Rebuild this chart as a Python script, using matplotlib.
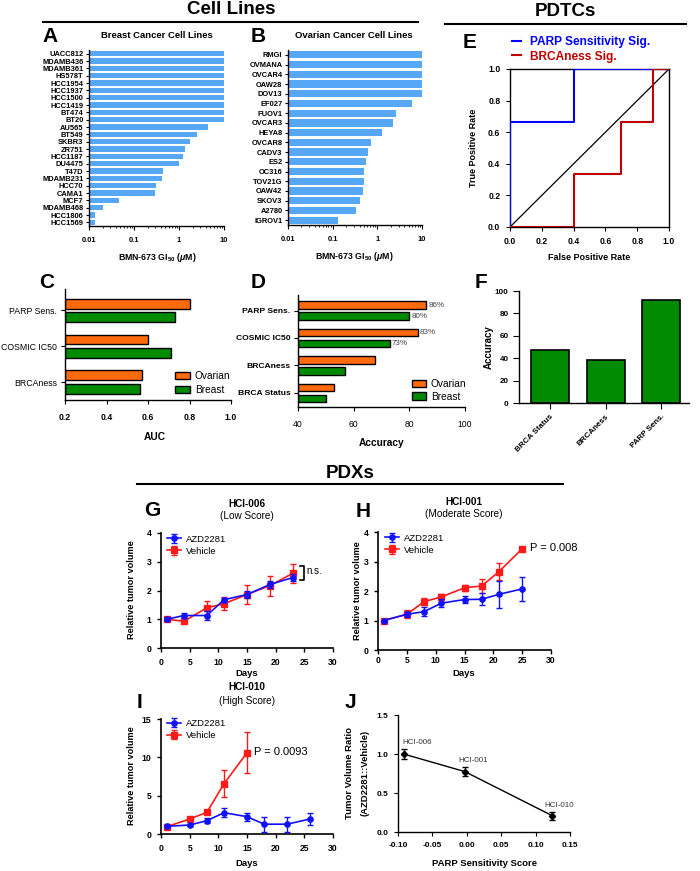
import matplotlib
matplotlib.use('Agg')
import matplotlib.pyplot as plt
import numpy as np
from matplotlib.patches import Patch
from matplotlib.lines import Line2D

plt.rcParams['font.family'] = ['Liberation Sans', 'DejaVu Sans']
plt.rcParams['mathtext.fontset'] = 'custom'
plt.rcParams['mathtext.rm'] = 'Liberation Sans:bold'
plt.rcParams['mathtext.it'] = 'Liberation Sans:bold:italic'
plt.rcParams['mathtext.bf'] = 'Liberation Sans:bold'
plt.rcParams['axes.linewidth'] = 1.0

# ---------------- data ----------------
breast_lines = ['UACC812', 'MDAMB436', 'MDAMB361', 'HS578T', 'HCC1954', 'HCC1937',
                'HCC1500', 'HCC1419', 'BT474', 'BT20', 'AU565', 'BT549', 'SKBR3',
                'ZR751', 'HCC1187', 'DU4475', 'T47D', 'MDAMB231', 'HCC70', 'CAMA1',
                'MCF7', 'MDAMB468', 'HCC1806', 'HCC1569']
breast_gi50 = [10, 10, 10, 10, 10, 10, 10, 10, 10, 10, 4.4, 2.5, 1.8, 1.34, 1.25,
               1.0, 0.43, 0.41, 0.31, 0.30, 0.047, 0.0205, 0.0136, 0.0136]

ovarian_lines = ['RMGI', 'OVMANA', 'OVCAR4', 'OAW28', 'DOV13', 'EF027', 'FUOV1',
                 'OVCAR3', 'HEYA8', 'OVCAR8', 'CADV3', 'ES2', 'OC316', 'TOV21G',
                 'OAW42', 'SKOV3', 'A2780', 'IGROV1']
ovarian_gi50 = [10, 10, 10, 10, 10, 6.0, 2.6, 2.24, 1.3, 0.72, 0.62, 0.56, 0.5, 0.5,
                0.48, 0.41, 0.33, 0.134]
gi_ticks = [0.01, 0.1, 1, 10]
gi_tick_labels = ['0.01', '0.1', '1', '10']

auc_methods = ['PARP Sens.', 'COSMIC IC50', 'BRCAness']
auc_ovarian = [0.80, 0.60, 0.57]
auc_breast = [0.73, 0.71, 0.56]

acc_methods = ['PARP Sens.', 'COSMIC IC50', 'BRCAness', 'BRCA Status']
acc_ovarian = [86, 83, 67.5, 53]
acc_breast = [80, 73, 57, 50]
acc_labelled = [True, True, False, False]

roc_parp_fpr = [0, 0, 0.4, 0.4, 1.0]
roc_parp_tpr = [0, 0.667, 0.667, 1.0, 1.0]
roc_brca_fpr = [0, 0.4, 0.4, 0.7, 0.7, 0.9, 0.9, 1.0]
roc_brca_tpr = [0, 0, 0.333, 0.333, 0.667, 0.667, 1.0, 1.0]

pdtc_methods = ['BRCA Status', 'BRCAness', 'PARP Sens.']
pdtc_acc = [47, 38.5, 92]

g_days = [1, 4, 8, 11, 15, 19, 23]
g_azd = [1.0, 1.13, 1.13, 1.68, 1.86, 2.21, 2.45]
g_azd_err = [0.05, 0.08, 0.15, 0.07, 0.12, 0.12, 0.12]
g_veh = [1.0, 0.93, 1.40, 1.54, 1.86, 2.17, 2.60]
g_veh_err = [0.03, 0.05, 0.25, 0.22, 0.33, 0.35, 0.33]

h_days = [1, 5, 8, 11, 15, 18, 21, 25]
h_azd = [1.0, 1.21, 1.30, 1.59, 1.71, 1.72, 1.89, 2.07]
h_azd_err = [0.03, 0.08, 0.15, 0.13, 0.12, 0.2, 0.45, 0.42]
h_veh = [1.0, 1.21, 1.64, 1.80, 2.11, 2.17, 2.66, 3.43]
h_veh_err = [0.03, 0.13, 0.13, 0.09, 0.11, 0.25, 0.3, 0.05]

i_days_azd = [1, 5, 8, 11, 15, 18, 22, 26]
i_azd = [1.0, 1.17, 1.74, 2.78, 2.26, 1.28, 1.28, 1.96]
i_azd_err = [0.1, 0.15, 0.35, 0.6, 0.5, 1.0, 1.0, 0.75]
i_days_veh = [1, 5, 8, 11, 15]
i_veh = [0.95, 1.96, 2.83, 6.57, 10.6]
i_veh_err = [0.1, 0.15, 0.2, 1.8, 2.7]

j_models = ['HCI-006', 'HCI-001', 'HCI-010']
j_score = [-0.092, -0.003, 0.124]
j_ratio = [1.0, 0.775, 0.21]
j_err = [0.07, 0.06, 0.05]

# ---------------- helpers ----------------
W, H = 700, 871
fig = plt.figure(figsize=(7, 8.71), dpi=100)


def box(x0, y0, x1, y1):
    return fig.add_axes([x0 / W, 1 - y1 / H, (x1 - x0) / W, (y1 - y0) / H])


def ftext(x, y, s, **kw):
    kw.setdefault('ha', 'center')
    kw.setdefault('va', 'center')
    fig.text(x / W, 1 - y / H, s, **kw)


def hline(x0, x1, y, lw=1.5):
    fig.add_artist(Line2D([x0 / W, x1 / W], [1 - y / H, 1 - y / H], color='black', lw=lw))


def bold_ticks(ax, size=6):
    for t in ax.get_xticklabels() + ax.get_yticklabels():
        t.set_fontweight('bold')
        t.set_fontsize(size)


def lb_spines(ax):
    ax.spines['top'].set_visible(False)
    ax.spines['right'].set_visible(False)


BLUE_BAR = '#56A8F7'
ORANGE = '#FF6A0D'
GREEN = '#008A00'

# ---------------- headers ----------------
ftext(231, 10, 'Cell Lines', fontsize=13.5, fontweight='bold')
hline(43, 418, 22)
ftext(565, 12, 'PDTCs', fontsize=13.5, fontweight='bold')
hline(445, 686, 24)
ftext(350, 473, 'PDXs', fontsize=13.5, fontweight='bold')
hline(137, 563, 484)

for lab, x, y in [('A', 50, 37), ('B', 258, 37), ('C', 47, 283), ('D', 258, 282),
                  ('E', 470, 43), ('F', 481, 282), ('G', 152, 510), ('H', 363, 511),
                  ('I', 140, 702), ('J', 350, 703)]:
    ftext(x, y, lab, fontsize=15, fontweight='bold')


# ---------------- A & B ----------------
def cell_panel(ax, names, vals):
    n = len(names)
    pos = np.arange(n)
    ax.barh(pos, np.array(vals) - 0.01, left=0.01, height=0.74, color=BLUE_BAR)
    ax.set_xscale('log')
    ax.set_xlim(0.01, 10)
    ax.set_ylim(n - 0.5, -0.5)
    ax.set_yticks(pos)
    ax.set_yticklabels(names)
    ax.set_xticks(gi_ticks)
    ax.set_xticklabels(gi_tick_labels)
    lb_spines(ax)
    ax.tick_params(axis='y', length=2.5, width=0.8, pad=1.5)
    ax.tick_params(axis='x', which='major', length=3, width=0.8, pad=5)
    ax.tick_params(axis='x', which='minor', length=1.5, width=0.6)
    bold_ticks(ax, 5.4)


axA = box(89, 50, 224, 226)
cell_panel(axA, breast_lines, breast_gi50)
ftext(157, 36, 'Breast Cancer Cell Lines', fontsize=6.8, fontweight='bold')
ftext(157, 257, r'BMN-673 GI$_{50}$ ($\mu$M)', fontsize=6.3, fontweight='bold')

axB = box(288, 50, 422, 225)
cell_panel(axB, ovarian_lines, ovarian_gi50)
ftext(354, 36, 'Ovarian Cancer Cell Lines', fontsize=6.8, fontweight='bold')
ftext(354, 256, r'BMN-673 GI$_{50}$ ($\mu$M)', fontsize=6.3, fontweight='bold')

# ---------------- E ----------------
axE = box(510, 69, 669, 227)
l1, = axE.plot(roc_parp_fpr, roc_parp_tpr, color='#0000FF', lw=1.5, zorder=3)
l2, = axE.plot(roc_brca_fpr, roc_brca_tpr, color='#C00000', lw=1.5, zorder=3)
axE.plot([0, 1], [0, 1], color='black', lw=0.9)
axE.set_xlim(0, 1)
axE.set_ylim(0, 1)
ticks = [0, 0.2, 0.4, 0.6, 0.8, 1.0]
axE.set_xticks(ticks)
axE.set_yticks(ticks)
axE.set_xticklabels(['%.1f' % t for t in ticks])
axE.set_yticklabels(['%.1f' % t for t in ticks])
axE.tick_params(length=3, width=0.8, pad=4)
bold_ticks(axE, 6.2)
ftext(589, 258, 'False Positive Rate', fontsize=6.5, fontweight='bold')
ftext(473, 148, 'True Positive Rate', fontsize=6.5, fontweight='bold', rotation=90)
leg = axE.legend([l1, l2], ['PARP Sensitivity Sig.', 'BRCAness Sig.'], loc='lower left',
                 bbox_to_anchor=(0.015, 1.04), frameon=False, handlelength=0.75,
                 handletextpad=0.7, fontsize=8.6, borderpad=0, borderaxespad=0,
                 labelspacing=0.2)
for t, c in zip(leg.get_texts(), ['#0000FF', '#C00000']):
    t.set_color(c)
    t.set_fontweight('bold')

# ---------------- C ----------------
axC = box(65, 289, 231, 400)
pos = np.arange(len(auc_methods))
axC.barh(pos - 0.19, np.array(auc_ovarian) - 0.2, left=0.2, height=0.27, color=ORANGE,
         edgecolor='black', lw=1.0)
axC.barh(pos + 0.19, np.array(auc_breast) - 0.2, left=0.2, height=0.27, color=GREEN,
         edgecolor='black', lw=1.0)
axC.set_xlim(0.2, 1.0)
axC.set_ylim(2.5, -0.6)
axC.set_yticks(pos)
axC.set_yticklabels(auc_methods)
axC.set_xticks([0.2, 0.4, 0.6, 0.8, 1.0])
axC.set_xticklabels(['0.2', '0.4', '0.6', '0.8', '1.0'])
lb_spines(axC)
axC.tick_params(axis='y', length=3, width=0.8, pad=2.5, labelsize=6.3)
axC.tick_params(axis='x', length=3, width=0.8, pad=6.5, labelsize=6.2)
for t in axC.get_xticklabels():
    t.set_fontweight('bold')
ftext(155, 437, 'AUC', fontsize=7.3, fontweight='bold')
axC.legend(handles=[Patch(facecolor=ORANGE, edgecolor='black', label='Ovarian'),
                    Patch(facecolor=GREEN, edgecolor='black', label='Breast')],
           loc='upper left', bbox_to_anchor=(0.665, 0.26), frameon=False, fontsize=7.3,
           handlelength=1.4, handleheight=0.75, handletextpad=0.5, borderpad=0,
           borderaxespad=0, labelspacing=0.4)

# ---------------- D ----------------
axD = box(298, 295, 465, 407)
pos = np.arange(len(acc_methods))
axD.barh(pos - 0.2, np.array(acc_ovarian) - 40, left=40, height=0.27, color=ORANGE,
         edgecolor='black', lw=1.0)
axD.barh(pos + 0.2, np.array(acc_breast) - 40, left=40, height=0.27, color=GREEN,
         edgecolor='black', lw=1.0)
for i, show in enumerate(acc_labelled):
    if show:
        axD.text(acc_ovarian[i] + 0.8, i - 0.2, '%d%%' % acc_ovarian[i], fontsize=5.8,
                 va='center', color='#444444')
        axD.text(acc_breast[i] + 0.8, i + 0.2, '%d%%' % acc_breast[i], fontsize=5.8,
                 va='center', color='#444444')
axD.set_xlim(40, 100)
axD.set_ylim(3.52, -0.57)
axD.set_yticks(pos)
axD.set_yticklabels(acc_methods)
axD.set_xticks([40, 60, 80, 100])
lb_spines(axD)
axD.tick_params(axis='y', length=3, width=0.8, pad=2.5, labelsize=6.1)
axD.tick_params(axis='x', length=3, width=0.8, pad=6.5, labelsize=6.2)
for t in axD.get_yticklabels():
    t.set_fontweight('bold')
ftext(382, 443, 'Accuracy', fontsize=7.3, fontweight='bold')
axD.legend(handles=[Patch(facecolor=ORANGE, edgecolor='black', label='Ovarian'),
                    Patch(facecolor=GREEN, edgecolor='black', label='Breast')],
           loc='upper left', bbox_to_anchor=(0.68, 0.25), frameon=False, fontsize=7.3,
           handlelength=1.4, handleheight=0.75, handletextpad=0.5, borderpad=0,
           borderaxespad=0, labelspacing=0.25)

# ---------------- F ----------------
axF = box(519, 291, 689, 403)
xpos = np.arange(len(pdtc_methods))
axF.bar(xpos, pdtc_acc, width=0.68, color=GREEN, edgecolor='black', lw=1.2)
axF.set_xlim(-0.56, 2.5)
axF.set_ylim(0, 100)
axF.set_yticks([0, 20, 40, 60, 80, 100])
axF.set_xticks(xpos)
axF.set_xticklabels(pdtc_methods, rotation=45, ha='right', rotation_mode='anchor')
lb_spines(axF)
axF.tick_params(length=4, width=0.8)
axF.tick_params(axis='x', pad=3)
bold_ticks(axF, 5.8)
ftext(489, 347, 'Accuracy', fontsize=7, fontweight='bold', rotation=90)


# ---------------- G, H, I ----------------
def pdx_panel(ax, d1, v1, e1, d2, v2, e2, ylim, yticks, leg_anchor, xpad=4):
    ax.errorbar(d1, v1, yerr=e1, color='#1010FF', marker='o', ms=3.8, lw=1.2,
                elinewidth=1.0, capsize=2, capthick=1.0, label='AZD2281', zorder=3)
    ax.errorbar(d2, v2, yerr=e2, color='#FF1A1A', marker='s', ms=3.8, lw=1.2,
                elinewidth=1.0, capsize=2, capthick=1.0, label='Vehicle', zorder=2)
    ax.set_xlim(0, 30)
    ax.set_ylim(*ylim)
    ax.set_xticks([0, 5, 10, 15, 20, 25, 30])
    ax.set_yticks(yticks)
    lb_spines(ax)
    ax.spines['left'].set_linewidth(1.2)
    ax.spines['bottom'].set_linewidth(1.2)
    ax.tick_params(length=3, width=1.0, pad=4)
    ax.tick_params(axis='x', pad=xpad)
    bold_ticks(ax, 6.2)
    ax.legend(loc='upper left', bbox_to_anchor=leg_anchor, frameon=False, fontsize=6.8,
              handlelength=1.5, handletextpad=0.5, borderpad=0, borderaxespad=0,
              labelspacing=0.3)


axG = box(161, 533, 333, 648)
pdx_panel(axG, g_days, g_azd, g_azd_err, g_days, g_veh, g_veh_err, (0, 4),
          [0, 1, 2, 3, 4], (0.035, 0.985))
axG.plot([24.2, 24.9, 24.9, 24.2], [2.86, 2.86, 2.37, 2.37], color='black', lw=1.2)
axG.text(25.4, 2.68, 'n.s.', fontsize=7, va='center')
ftext(247, 504, 'HCI-006', fontsize=7.2, fontweight='bold')
ftext(247, 516, '(Low Score)', fontsize=7.2)
ftext(247, 674, 'Days', fontsize=6.8, fontweight='bold')
ftext(132, 590, 'Relative tumor volume', fontsize=6.6, fontweight='bold', rotation=90)

axH = box(378, 532, 551, 650)
pdx_panel(axH, h_days, h_azd, h_azd_err, h_days, h_veh, h_veh_err, (0, 4),
          [0, 1, 2, 3, 4], (0.04, 0.985), xpad=1.5)
axH.text(26.3, 3.45, 'P = 0.008', fontsize=8, va='center')
ftext(464, 502, 'HCI-001', fontsize=7.2, fontweight='bold')
ftext(464, 514, '(Moderate Score)', fontsize=7.2)
ftext(464, 673, 'Days', fontsize=6.8, fontweight='bold')
ftext(357, 591, 'Relative tumor volume', fontsize=6.6, fontweight='bold', rotation=90)

axI = box(161, 719, 333, 834)
pdx_panel(axI, i_days_azd, i_azd, i_azd_err, i_days_veh, i_veh, i_veh_err, (0, 15),
          [0, 5, 10, 15], (0.035, 1.0))
axI.text(16.2, 10.7, 'P = 0.0093', fontsize=8, va='center')
ftext(247, 687, 'HCI-010', fontsize=7.2, fontweight='bold')
ftext(247, 701, '(High Score)', fontsize=7.2)
ftext(247, 863, 'Days', fontsize=6.8, fontweight='bold')
ftext(131, 776, 'Relative tumor volume', fontsize=6.6, fontweight='bold', rotation=90)

# ---------------- J ----------------
axJ = box(398, 715, 570, 832)
axJ.errorbar(j_score, j_ratio, yerr=j_err, color='black', marker='D', ms=3.2, lw=1.0,
             elinewidth=1.0, capsize=2, capthick=1.0)
for sx, sy, name, off in zip(j_score, j_ratio, j_models, [(10, 8), (6, 8), (5, 7)]):
    axJ.annotate(name, (sx, sy), xytext=off, textcoords='offset points', ha='center',
                 va='center', fontsize=5.8, color='#333333')
axJ.set_xlim(-0.10, 0.15)
axJ.set_ylim(0, 1.5)
axJ.set_xticks([-0.10, -0.05, 0.0, 0.05, 0.10, 0.15])
axJ.set_xticklabels(['-0.10', '-0.05', '0.00', '0.05', '0.10', '0.15'])
axJ.set_yticks([0, 0.5, 1.0, 1.5])
axJ.set_yticklabels(['0.0', '0.5', '1.0', '1.5'])
lb_spines(axJ)
axJ.tick_params(length=3, width=0.8, pad=4)
bold_ticks(axJ, 6.0)
ftext(484, 863, 'PARP Sensitivity Score', fontsize=6.8, fontweight='bold')
ftext(350, 773, 'Tumor Volume Ratio', fontsize=6.8, fontweight='bold', rotation=90)
ftext(365, 773, '(AZD2281::Vehicle)', fontsize=6.8, fontweight='bold', rotation=90)

fig.savefig('out.png', dpi=100)
